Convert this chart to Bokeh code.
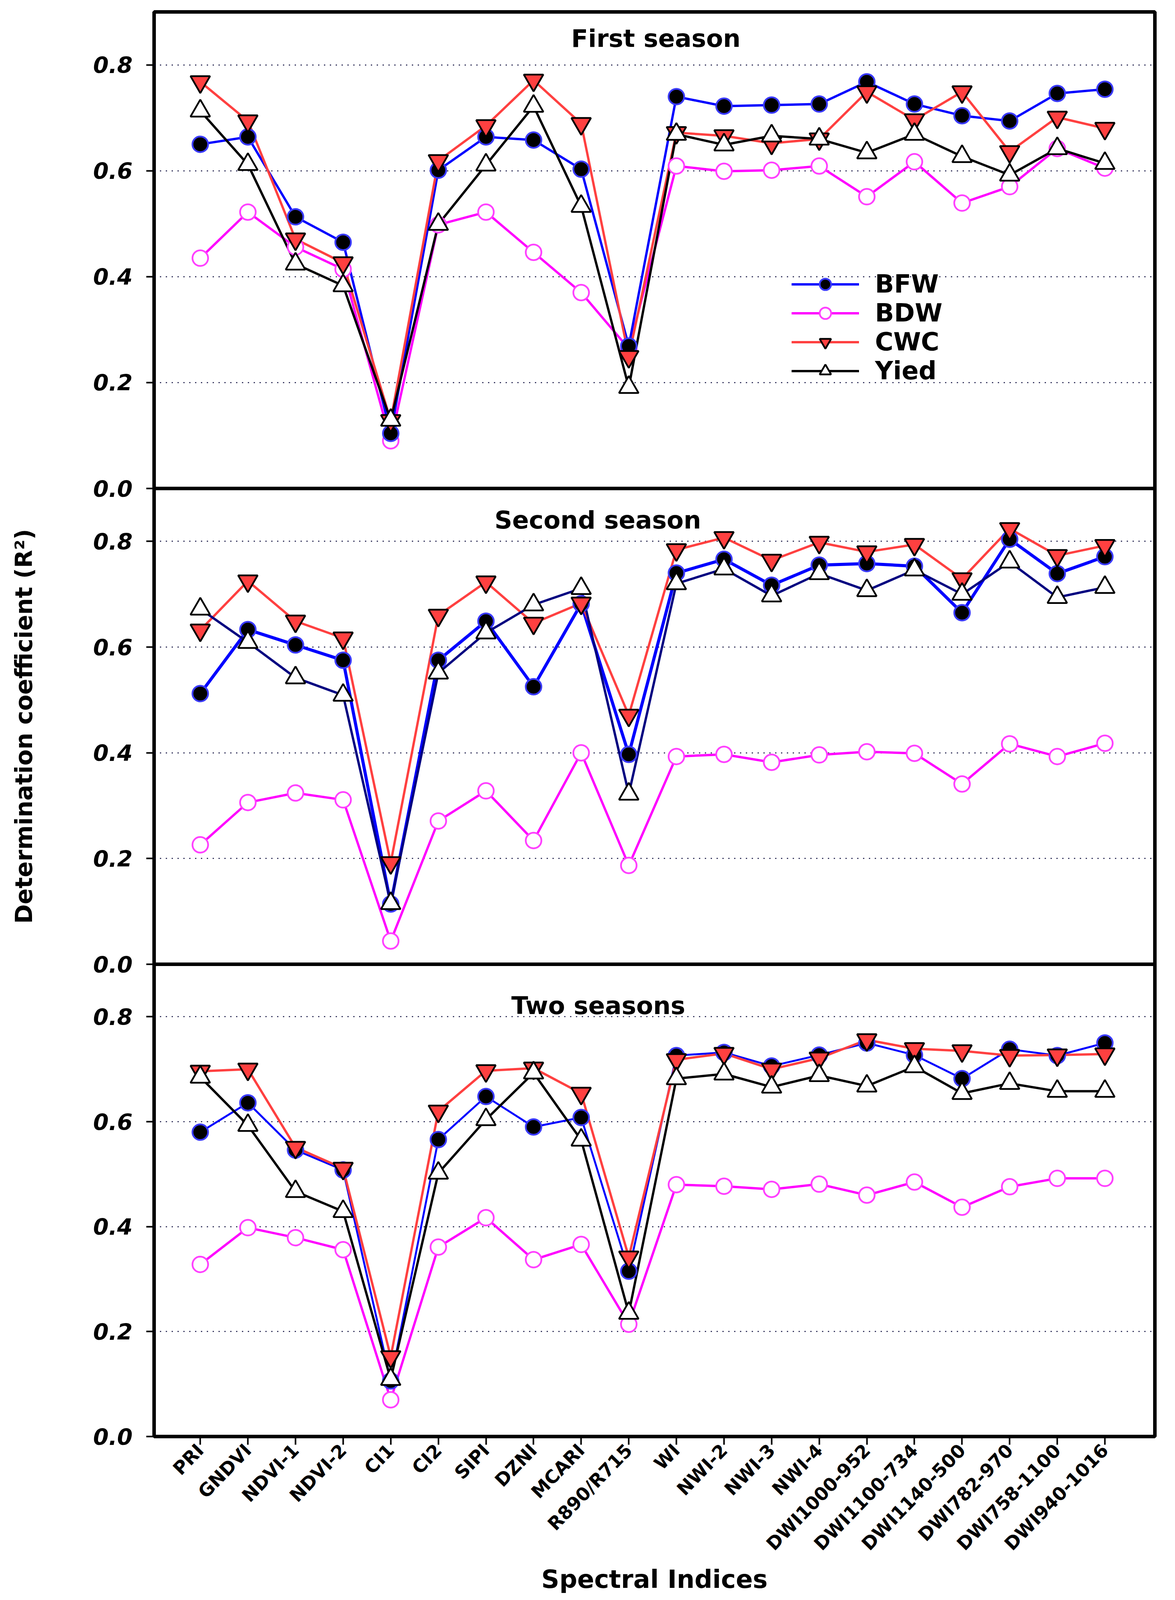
from bokeh.plotting import figure
from bokeh.layouts import column
from bokeh.models import Range1d, FixedTicker, PrintfTickFormatter, Label, Legend, LegendItem
from bokeh.embed import file_html
from bokeh.resources import INLINE

indices = ["PRI", "GNDVI", "NDVI-1", "NDVI-2", "CI1", "CI2", "SIPI", "DZNI", "MCARI", "R890/R715",
           "WI", "NWI-2", "NWI-3", "NWI-4", "DWI1000-952", "DWI1100-734", "DWI1140-500",
           "DWI782-970", "DWI758-1100", "DWI940-1016"]
series_names = ["BFW", "BDW", "CWC", "Yied"]
panel_titles = ["First season", "Second season", "Two seasons"]
y_ticks = [0.0, 0.2, 0.4, 0.6, 0.8]

# First season
s1_bfw = [0.650, 0.664, 0.513, 0.465, 0.104, 0.601, 0.664, 0.658, 0.603, 0.269,
          0.740, 0.722, 0.724, 0.726, 0.768, 0.726, 0.704, 0.694, 0.746, 0.754]
s1_bdw = [0.435, 0.522, 0.456, 0.414, 0.090, 0.498, 0.522, 0.446, 0.370, 0.264,
          0.609, 0.599, 0.601, 0.609, 0.551, 0.617, 0.539, 0.570, 0.642, 0.605]
s1_cwc = [0.768, 0.694, 0.471, 0.426, 0.128, 0.619, 0.685, 0.771, 0.689, 0.249,
          0.672, 0.666, 0.652, 0.660, 0.749, 0.696, 0.749, 0.636, 0.701, 0.680]
s1_yied = [0.713, 0.612, 0.424, 0.383, 0.129, 0.499, 0.611, 0.722, 0.533, 0.191,
           0.669, 0.649, 0.666, 0.660, 0.634, 0.669, 0.627, 0.592, 0.642, 0.614]

# Second season
s2_bfw = [0.512, 0.633, 0.604, 0.575, 0.114, 0.575, 0.649, 0.525, 0.682, 0.397,
          0.740, 0.766, 0.717, 0.755, 0.758, 0.753, 0.665, 0.804, 0.739, 0.771]
s2_bdw = [0.226, 0.306, 0.324, 0.311, 0.044, 0.271, 0.328, 0.234, 0.400, 0.187,
          0.393, 0.397, 0.382, 0.396, 0.402, 0.399, 0.341, 0.417, 0.393, 0.418]
s2_cwc = [0.632, 0.725, 0.649, 0.617, 0.192, 0.660, 0.723, 0.645, 0.683, 0.471,
          0.784, 0.807, 0.764, 0.798, 0.780, 0.794, 0.729, 0.824, 0.773, 0.792]
s2_yied = [0.672, 0.609, 0.542, 0.509, 0.115, 0.551, 0.627, 0.680, 0.711, 0.322,
           0.720, 0.748, 0.697, 0.739, 0.707, 0.746, 0.700, 0.761, 0.694, 0.713]

# Two seasons
s3_bfw = [0.580, 0.636, 0.546, 0.508, 0.106, 0.566, 0.648, 0.590, 0.608, 0.315,
          0.726, 0.732, 0.706, 0.727, 0.750, 0.727, 0.682, 0.738, 0.726, 0.750]
s3_bdw = [0.328, 0.398, 0.379, 0.356, 0.070, 0.361, 0.417, 0.337, 0.366, 0.214,
          0.480, 0.477, 0.471, 0.481, 0.460, 0.485, 0.437, 0.476, 0.492, 0.492]
s3_cwc = [0.696, 0.700, 0.551, 0.511, 0.152, 0.620, 0.697, 0.702, 0.654, 0.342,
          0.718, 0.730, 0.700, 0.721, 0.756, 0.739, 0.735, 0.726, 0.727, 0.729]
s3_yied = [0.685, 0.593, 0.467, 0.429, 0.109, 0.502, 0.604, 0.693, 0.565, 0.235,
           0.682, 0.691, 0.666, 0.688, 0.668, 0.705, 0.654, 0.673, 0.658, 0.658]

FONT = "DejaVu Sans"
x = list(range(len(indices)))


def make_panel(title, title_xy, data, yied_color, bfw_width, frame_h, top, bottom,
               show_x=False, ylabel=None, legend=False, shift=0):
    bfw, bdw, cwc, yied = data
    p = figure(width=2976, height=frame_h + top + bottom,
               x_range=Range1d(-0.97, 20.05), y_range=Range1d(0, 0.9),
               output_backend="svg", toolbar_location=None,
               min_border_left=394, min_border_right=20,
               min_border_top=top, min_border_bottom=bottom)
    p.margin = (shift, 0, 0, 0)
    p.background_fill_alpha = 0
    p.border_fill_alpha = 0
    p.outline_line_color = "black"
    p.outline_line_width = 9
    p.xgrid.grid_line_color = None
    p.ygrid.ticker = FixedTicker(ticks=[0.2, 0.4, 0.6, 0.8])
    p.ygrid.grid_line_color = "#000033"
    p.ygrid.grid_line_width = 2.5
    p.ygrid.grid_line_dash = "3 12"

    ya = p.yaxis[0]
    ya.ticker = FixedTicker(ticks=y_ticks)
    ya.formatter = PrintfTickFormatter(format="%.1f")
    ya.major_label_text_font = FONT
    ya.major_label_text_font_style = "bold italic"
    ya.major_label_text_font_size = "57px"
    ya.major_label_text_color = "black"
    ya.major_label_standoff = 35
    ya.major_tick_line_width = 4
    ya.major_tick_out = 20
    ya.major_tick_in = 0
    ya.minor_tick_line_color = None
    ya.axis_line_color = None
    if ylabel:
        ya.axis_label = ylabel
        ya.axis_label_text_font = FONT
        ya.axis_label_text_font_style = "bold"
        ya.axis_label_text_font_size = "60px"
        ya.axis_label_text_color = "black"
        ya.axis_label_standoff = 140

    xa = p.xaxis[0]
    if show_x:
        xa.ticker = FixedTicker(ticks=x)
        xa.major_label_overrides = {i: lab for i, lab in enumerate(indices)}
        xa.major_label_orientation = 0.80
        xa.major_label_text_font = FONT
        xa.major_label_text_font_style = "bold"
        xa.major_label_text_font_size = "47px"
        xa.major_label_text_color = "black"
        xa.major_label_standoff = 6
        xa.major_tick_line_width = 4
        xa.major_tick_out = 21
        xa.major_tick_in = 0
        xa.minor_tick_line_color = None
        xa.axis_line_color = None
        xa.axis_label = "Spectral Indices"
        xa.axis_label_text_font = FONT
        xa.axis_label_text_font_style = "bold"
        xa.axis_label_text_font_size = "64px"
        xa.axis_label_text_color = "black"
        xa.axis_label_standoff = 4
    else:
        xa.visible = False

    lw = 6
    l_bdw = p.line(x, bdw, line_color="#ff00ff", line_width=lw)
    l_bfw = p.line(x, bfw, line_color="#0000ff", line_width=bfw_width)
    l_cwc = p.line(x, cwc, line_color="#ff4040", line_width=lw)
    l_yied = p.line(x, yied, line_color=yied_color, line_width=lw)

    m_bdw = p.scatter(x, bdw, marker="circle", size=40, fill_color="white",
                      line_color="#ff40ff", line_width=4.5)
    m_bfw = p.scatter(x, bfw, marker="circle", size=40, fill_color="black",
                      line_color="#3a3aff", line_width=4.5)
    m_cwc = p.scatter(x, cwc, marker="inverted_triangle", size=50, fill_color="#ff4040",
                      line_color="black", line_width=4.5)
    m_yied = p.scatter(x, yied, marker="triangle", size=50, fill_color="white",
                       line_color="black", line_width=4.5)

    p.add_layout(Label(x=title_xy[0], y=title_xy[1], text=title, text_align="center",
                       text_baseline="middle", text_font=FONT, text_font_style="bold",
                       text_font_size="63px", text_color="black"))

    if legend:
        items = [LegendItem(label=series_names[0], renderers=[l_bfw, m_bfw]),
                 LegendItem(label=series_names[1], renderers=[l_bdw, m_bdw]),
                 LegendItem(label=series_names[2], renderers=[l_cwc, m_cwc]),
                 LegendItem(label=series_names[3], renderers=[l_yied, m_yied])]
        lg = Legend(items=items, location=(1632, 264), orientation="vertical",
                    glyph_width=173, glyph_height=73, spacing=0, label_standoff=41,
                    padding=0, margin=0, border_line_color=None, background_fill_alpha=0,
                    label_text_font=FONT, label_text_font_style="bold",
                    label_text_font_size="64px", label_text_color="black")
        p.add_layout(lg)
    return p


p1 = make_panel(panel_titles[0], (9.57, 0.850), (s1_bfw, s1_bdw, s1_cwc, s1_yied), "black", 6,
                1220, 30, 35, legend=True)
p2 = make_panel(panel_titles[1], (8.35, 0.840), (s2_bfw, s2_bdw, s2_cwc, s2_yied), "#000080", 8,
                1218, 0, 35, ylabel="Determination coefficient (R\u00b2)", shift=-35)
p3 = make_panel(panel_titles[2], (8.36, 0.821), (s3_bfw, s3_bdw, s3_cwc, s3_yied), "black", 5,
                1214, 0, 400, show_x=True, shift=-35)

layout = column(p1, p2, p3, spacing=0)
open("out.html", "w").write(file_html(layout, INLINE))
